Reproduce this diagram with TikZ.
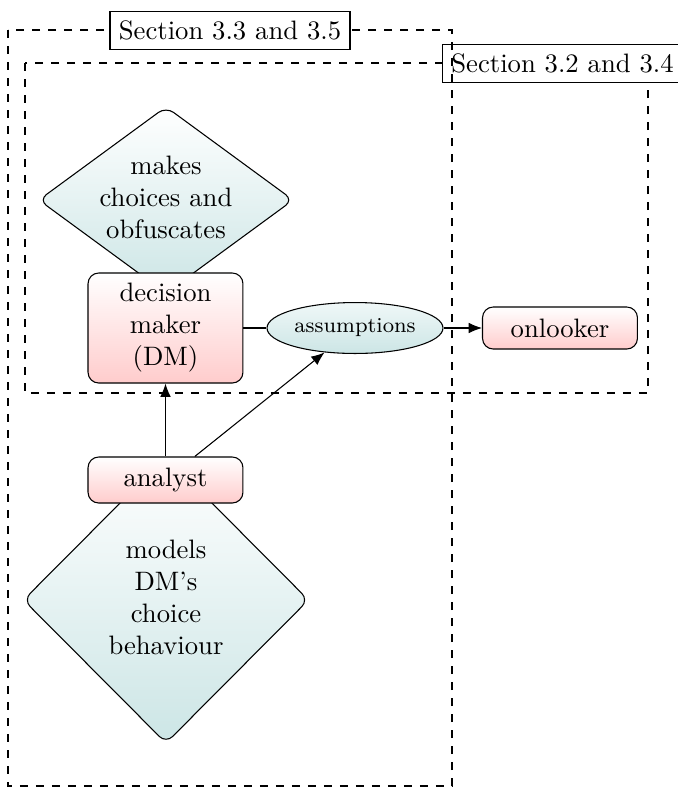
\documentclass[tikz,border=0pt]{standalone}
\usetikzlibrary{shapes.geometric,arrows.meta}
\newcommand{\ctext}[1]{\makebox[0pt]{\vbox to 0pt{\vss\hbox{\begin{tabular}{@{}c@{}}#1\end{tabular}}\vss}}}
\begin{document}
\begin{tikzpicture}[x=0.375pt,y=-0.375pt,
  redbox/.style={draw, rounded corners=4pt, top color=white, bottom color=red!20,
    minimum width=58.1pt, inner sep=0pt, align=center},
  tealdia/.style={draw, diamond, rounded corners=3.5pt, top color=white,
    bottom color=teal!20, inner sep=0pt},
  secbox/.style={draw, dashed},
  seclabel/.style={draw, fill=white, inner sep=3.33pt},
  conn/.style={-{Latex[length=5pt,width=4pt]}}]
\useasboundingbox (0,0) rectangle (678,788);
% section boxes
\draw[secbox] (25,63) rectangle (648,393);
\node[seclabel] (lab2) at (562.5,63.5) {Section 3.2 and 3.4};
\draw[secbox] (8,30) rectangle (452,786);
\node[seclabel] (lab1) at (230,30.5) {Section 3.3 and 3.5};
% diamonds
\node[tealdia, minimum width=95.5pt, minimum height=70pt] (mk) at (166,200)
  {\ctext{makes\\choices and\\obfuscates}};
\node[tealdia, minimum width=107pt, minimum height=107.5pt] (md) at (166,600)
  {\ctext{models\\DM's\\choice\\behaviour}};
% boxes
\node[redbox, minimum height=41.25pt] (dm) at (165.5,328) {decision\\maker\\(DM)};
\node[redbox, minimum height=17.25pt] (an) at (165.5,480) {analyst};
\node[redbox, minimum height=15.75pt] (on) at (560,328) {onlooker};
\node[ellipse, draw, top color=teal!6, bottom color=teal!20, minimum width=66pt,
  minimum height=19.1pt, inner sep=0pt, font=\footnotesize] (as) at (355,328) {assumptions};
% connectors
\draw (dm) -- (as);
\draw[conn] (as) -- (on);
\draw[conn] (an) -- (dm);
\draw[conn] (an) -- (as);
\end{tikzpicture}
\end{document}
